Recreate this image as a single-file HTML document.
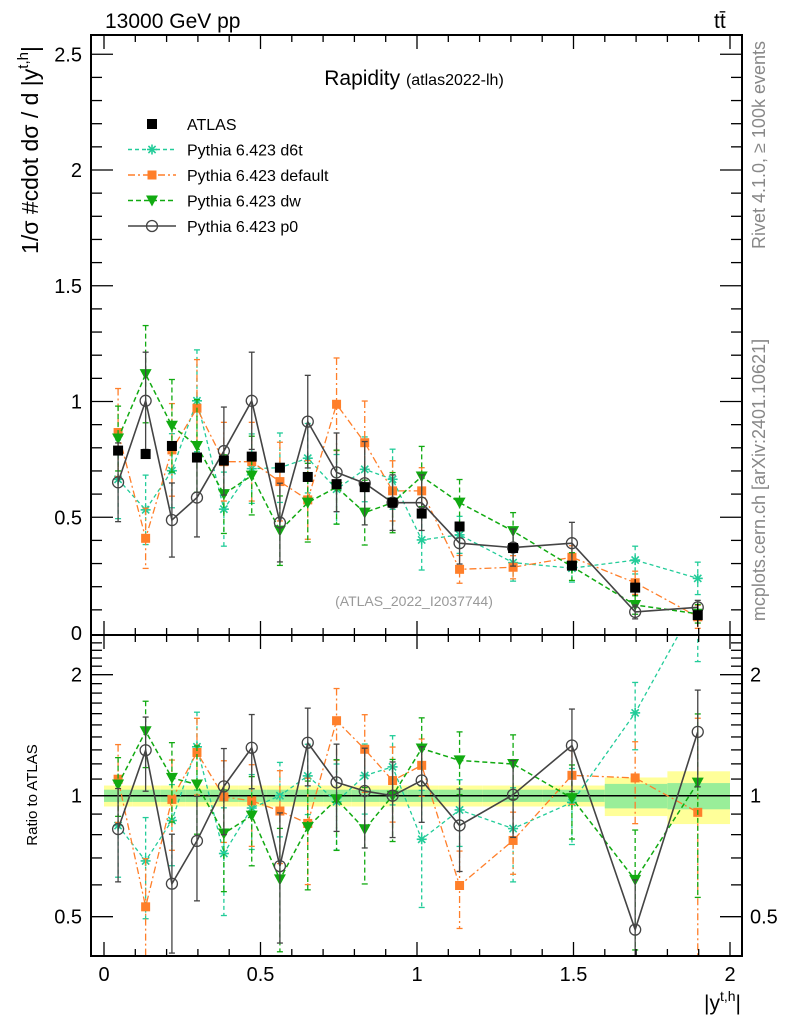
<!DOCTYPE html>
<html><head><meta charset="utf-8"><style>
body{margin:0;background:#fff;}
svg{display:block;font-family:"Liberation Sans",sans-serif;}
</style></head><body>
<svg id="chart" width="786" height="1024" viewBox="0 0 786 1024">
<text x="105" y="28" font-size="21">13000 GeV pp</text>
<text x="714" y="28" font-size="21">tt̄</text>
<text x="414" y="85" font-size="21" text-anchor="middle">Rapidity <tspan font-size="16">(atlas2022-lh)</tspan></text>
<text transform="translate(38,150) rotate(-90)" font-size="23" text-anchor="middle">1/σ #cdot dσ / d |y<tspan font-size="15" dy="-10">t,h</tspan><tspan dy="10">|</tspan></text>
<text transform="translate(37,795) rotate(-90)" font-size="15" text-anchor="middle">Ratio to ATLAS</text>
<text x="741" y="1010" font-size="21" text-anchor="end">|y<tspan font-size="14" dy="-9">t,h</tspan><tspan dy="9">|</tspan></text>
<text transform="translate(765,145) rotate(-90)" font-size="18" fill="#888" text-anchor="middle">Rivet 4.1.0, ≥ 100k events</text>
<text transform="translate(765,480) rotate(-90)" font-size="18" fill="#888" text-anchor="middle">mcplots.cern.ch [arXiv:2401.10621]</text>
<text x="414" y="606" font-size="14" fill="#999" text-anchor="middle">(ATLAS_2022_I2037744)</text>
<g id="ratio-band"></g>
<g id="marks"></g>
<g id="axes"></g>
<g id="legend"></g>
</svg>
<script>
const xCenters=[0.045,0.133,0.217,0.297,0.383,0.472,0.562,0.651,0.743,0.833,0.922,1.015,1.136,1.307,1.495,1.697,1.897];
const binEdges=[0,0.09,0.18,0.26,0.34,0.43,0.52,0.61,0.70,0.79,0.88,0.97,1.07,1.21,1.4,1.6,1.8,2.0];
const atlasVals=[0.788,0.773,0.808,0.758,0.745,0.762,0.714,0.674,0.643,0.63,0.563,0.516,0.46,0.367,0.291,0.196,0.077];
const atlasStat=[0.035,0.035,0.035,0.035,0.035,0.035,0.035,0.035,0.035,0.035,0.035,0.035,0.035,0.035,0.035,0.07,0.075];
const atlasTot=[0.06,0.06,0.06,0.06,0.06,0.06,0.06,0.06,0.06,0.06,0.06,0.06,0.06,0.06,0.06,0.11,0.15];
const d6tVals=[0.664,0.532,0.701,1.003,0.535,0.71,0.714,0.755,0.621,0.707,0.664,0.402,0.424,0.304,0.28,0.315,0.236];
const d6tErr=[0.17,0.15,0.16,0.22,0.16,0.15,0.15,0.15,0.15,0.14,0.13,0.13,0.08,0.08,0.06,0.06,0.07];
const defVals=[0.866,0.409,0.791,0.971,0.74,0.74,0.654,0.575,0.988,0.822,0.614,0.614,0.275,0.284,0.327,0.217,0.07];
const defErr=[0.19,0.13,0.2,0.21,0.17,0.17,0.17,0.17,0.2,0.18,0.13,0.1,0.06,0.05,0.05,0.05,0.05];
const dwVals=[0.84,1.118,0.895,0.808,0.6,0.68,0.442,0.563,0.63,0.52,0.563,0.676,0.563,0.44,0.287,0.121,0.083];
const dwErr=[0.14,0.21,0.2,0.2,0.17,0.17,0.15,0.17,0.16,0.14,0.13,0.13,0.1,0.08,0.06,0.04,0.04];
const p0Vals=[0.651,1.003,0.488,0.585,0.786,1.003,0.477,0.913,0.694,0.647,0.563,0.563,0.388,0.369,0.388,0.091,0.111];
const p0Err=[0.17,0.21,0.16,0.17,0.19,0.21,0.17,0.2,0.17,0.18,0.12,0.12,0.09,0.08,0.09,0.03,0.03];
const xTicks=[0,0.5,1,1.5,2];
const xTickLabels=["0","0.5","1","1.5","2"];
const yTicks=[0.5,1,1.5,2,2.5];
const yTickLabels=["0.5","1","1.5","2","2.5"];
const rTicks=[0.5,1,2];
const rTickLabels=["0.5","1","2"];

const NS="http://www.w3.org/2000/svg";
const L=91,R=742,T=35,MB=635,RB=956;
const X=v=>104+313*v;
const Y=v=>633-231.5*v;
const RY=r=>795.7-121*Math.log2(r);
function mk(tag,attrs,parent){const e=document.createElementNS(NS,tag);for(const k in attrs)e.setAttribute(k,attrs[k]);parent.appendChild(e);return e;}
const axes=document.getElementById('axes'),marks=document.getElementById('marks'),band=document.getElementById('ratio-band'),leg=document.getElementById('legend');

const defs=mk('defs',{},document.getElementById('chart'));
const c1=mk('clipPath',{id:'cm'},defs);mk('rect',{x:L,y:T,width:R-L,height:MB-T},c1);
const c2=mk('clipPath',{id:'cr'},defs);mk('rect',{x:L,y:MB,width:R-L,height:RB-MB},c2);
const gm=mk('g',{'clip-path':'url(#cm)'},marks);
const gr=mk('g',{'clip-path':'url(#cr)'},marks);

for(let i=0;i<atlasVals.length;i++){
  const x0=X(binEdges[i]),x1=X(binEdges[i+1]);
  const sy=atlasStat[i];
  const y=mk('rect',{x:x0,y:RY(1+atlasTot[i]),width:x1-x0,height:RY(1-atlasTot[i])-RY(1+atlasTot[i]),fill:'#ffff99'},band);
  
  
  const g=mk('rect',{x:x0,y:RY(1+sy),width:x1-x0,height:RY(1-sy)-RY(1+sy),fill:'#99ee99'},band);
  
  
}
mk('line',{x1:L,x2:R,y1:RY(1),y2:RY(1),stroke:'#000','stroke-width':1.5},band);

function marker(type,x,y,col,p){
  if(type==='sq') return mk('rect',{x:x-5,y:y-5,width:10,height:10,fill:col},p);
  if(type==='sqs') return mk('rect',{x:x-4.5,y:y-4.5,width:9,height:9,fill:col},p);
  if(type==='tri') return mk('path',{d:`M${x-6},${y-5}L${x+6},${y-5}L${x},${y+6}Z`,fill:col},p);
  if(type==='circ') return mk('circle',{cx:x,cy:y,r:5.5,fill:'none',stroke:col,'stroke-width':1.3},p);
  if(type==='star'){const g=mk('g',{stroke:col,'stroke-width':1.6},p);
    mk('line',{x1:x-5,x2:x+5,y1:y,y2:y},g);mk('line',{x1:x,x2:x,y1:y-5,y2:y+5},g);
    mk('line',{x1:x-3.6,x2:x+3.6,y1:y-3.6,y2:y+3.6},g);mk('line',{x1:x-3.6,x2:x+3.6,y1:y+3.6,y2:y-3.6},g);return g;}
}
const series=[
 {name:'d6t',vals:d6tVals,err:d6tErr,col:'#22cc99',dash:'4,3',m:'star',w:1.3},
 {name:'default',vals:defVals,err:defErr,col:'#ff7f2a',dash:'7,3,2,3',m:'sqs',w:1.3},
 {name:'dw',vals:dwVals,err:dwErr,col:'#11aa11',dash:'5,3',m:'tri',w:1.5},
 {name:'p0',vals:p0Vals,err:p0Err,col:'#444',dash:'',m:'circ',w:1.6}
];
function drawSeries(s,g,fy,vf,ef,tag){
  const pts=xCenters.map((x,i)=>X(x)+','+fy(vf(i)));
  const pl=mk('polyline',{points:pts.join(' '),fill:'none',stroke:s.col,'stroke-width':s.w,'stroke-dasharray':s.dash},g);
  
  
  xCenters.forEach((xv,i)=>{
    const x=X(xv),v=vf(i),e=ef(i);
    const y1=fy(v+e),y2=fy(Math.max(v-e,0.01));
    mk('line',{x1:x,x2:x,y1:y1,y2:y2,stroke:s.col,'stroke-width':1.3,'stroke-dasharray':s.dash},g);
    mk('line',{x1:x-3,x2:x+3,y1:y1,y2:y1,stroke:s.col,'stroke-width':1.3},g);
    mk('line',{x1:x-3,x2:x+3,y1:y2,y2:y2,stroke:s.col,'stroke-width':1.3},g);
    const mm=marker(s.m,x,fy(v),s.col,g);
    
    
  });
}
series.forEach(s=>{
  drawSeries(s,gm,Y,i=>s.vals[i],i=>s.err[i],'main');
  drawSeries(s,gr,RY,i=>s.vals[i]/atlasVals[i],i=>s.err[i]/atlasVals[i],'ratio');
});
xCenters.forEach((xv,i)=>{
  const x=X(xv);
  mk('line',{x1:x,x2:x,y1:Y(atlasVals[i]+atlasTot[i]/3),y2:Y(atlasVals[i]-atlasTot[i]/3),stroke:'#000','stroke-width':1.3},gm);
  const p=marker('sq',x,Y(atlasVals[i]),'#000',gm);
  
  
});

[[T,MB],[MB,RB]].forEach(([t,b])=>mk('rect',{x:L,y:t,width:R-L,height:b-t,fill:'none',stroke:'#000','stroke-width':2},axes));
for(let v=0;v<=2.001;v+=0.1){
  const major=Math.abs(v*2-Math.round(v*2))<1e-6;
  const x=X(v), l=major?14:7;
  [[T,1],[MB,-1],[MB,1],[RB,-1]].forEach(([y,d])=>mk('line',{x1:x,x2:x,y1:y,y2:y+d*l,stroke:'#000','stroke-width':1.3},axes));
}
xTicks.forEach((v,i)=>{const t=mk('text',{x:X(v),y:981,'font-size':20,'text-anchor':'middle'},axes);t.textContent=xTickLabels[i];
 
 });
for(let v=0.1;v<=2.6;v+=0.1){
  const y=Y(v); if(y<T) break;
  const major=Math.abs(v*2-Math.round(v*2))<1e-6, l=major?22:11;
  mk('line',{x1:L,x2:L+l,y1:y,y2:y,stroke:'#000','stroke-width':1.3},axes);
  mk('line',{x1:R,x2:R-l,y1:y,y2:y,stroke:'#000','stroke-width':1.3},axes);
}
yTicks.forEach((v,i)=>{const t=mk('text',{x:82,y:Y(v)+7,'font-size':20,'text-anchor':'end'},axes);t.textContent=yTickLabels[i];
 
 });
const z=mk('text',{x:82,y:640,'font-size':20,'text-anchor':'end'},axes);z.textContent='0';
[0.4,0.5,0.6,0.7,0.8,0.9,1,1.1,1.2,1.3,1.4,1.5,1.6,1.7,1.8,1.9,2,2.1,2.2,2.3,2.4].forEach(r=>{
  const y=RY(r); if(y<MB+1||y>RB-1) return;
  const l=rTicks.includes(r)?22:11;
  mk('line',{x1:L,x2:L+l,y1:y,y2:y,stroke:'#000','stroke-width':1.3},axes);
  mk('line',{x1:R,x2:R-l,y1:y,y2:y,stroke:'#000','stroke-width':1.3},axes);
});
rTicks.forEach((r,i)=>{
  const t=mk('text',{x:82,y:RY(r)+7,'font-size':20,'text-anchor':'end'},axes);t.textContent=rTickLabels[i];
  
  
  const t2=mk('text',{x:750,y:RY(r)+7,'font-size':20},axes);t2.textContent=rTickLabels[i];
  
  
});

const legItems=[['ATLAS','#000','sq',''],['Pythia 6.423 d6t','#22cc99','star','4,3'],['Pythia 6.423 default','#ff7f2a','sqs','7,3,2,3'],['Pythia 6.423 dw','#11aa11','tri','5,3'],['Pythia 6.423 p0','#444','circ','']];
legItems.forEach((it,i)=>{
  const y=124+i*25.5;
  const g=mk('g',{},leg);
  
  
  if(i>0) mk('line',{x1:128,x2:176,y1:y,y2:y,stroke:it[1],'stroke-width':1.4,'stroke-dasharray':it[3]},g);
  marker(it[2],152,y,it[1],g);
  const t=mk('text',{x:187,y:y+6,'font-size':16},g);t.textContent=it[0];
});
</script>
</body></html>
